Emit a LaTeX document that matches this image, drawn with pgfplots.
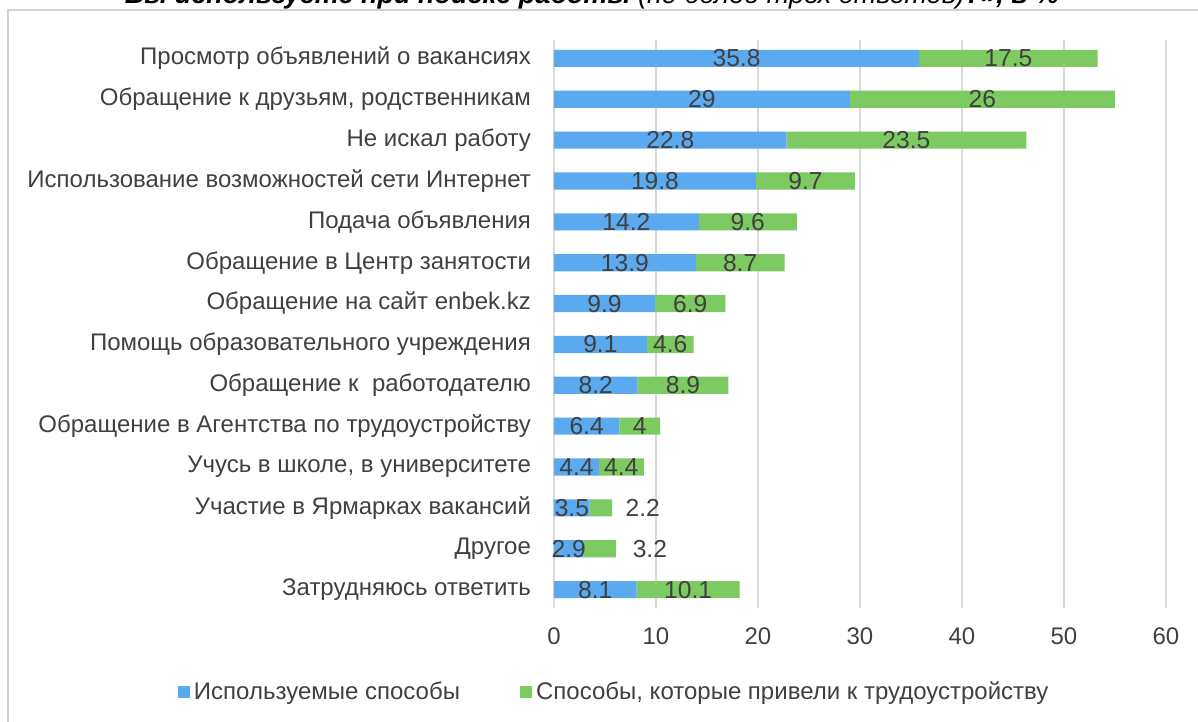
\documentclass[border=0pt]{standalone}
\usepackage{fontspec}
\setmainfont{Liberation Sans}
\usepackage{pgfplots}
\usepackage{pgfplotstable}
\pgfplotsset{compat=1.18}

\definecolor{usedblue}{HTML}{5BA9EF}
\definecolor{jobgreen}{HTML}{7DC962}
\definecolor{txt}{HTML}{404040}
\definecolor{gridgray}{HTML}{D9D9D9}

% y = row from top; p1/p2 = where the value labels sit
\pgfplotstableread{
y  used  result p1    p2
0  35.8  17.5   17.9  44.55
1  29    26     14.5  42
2  22.8  23.5   11.4  34.55
3  19.8  9.7    9.9   24.65
4  14.2  9.6    7.1   19.0
5  13.9  8.7    6.95  18.25
6  9.9   6.9    4.95  13.35
7  9.1   4.6    4.55  11.4
8  8.2   8.9    4.1   12.65
9  6.4   4      3.2   8.4
10 4.4   4.4    2.2   6.6
11 3.5   2.2    1.75  8.7
12 2.9   3.2    1.45  9.4
13 8.1   10.1   4.05  13.15
}\methods

\pgfplotsset{
    frame/.style={
        scale only axis,
        width=306pt, height=284pt,
        xmin=0, xmax=60,
        ymin=-0.45, ymax=13.45,
        y dir=reverse,
    },
}

\begin{document}
\begin{tikzpicture}[font=\fontsize{12}{14}\selectfont]
\begin{axis}[
    frame,
    xbar stacked,
    bar width=0.42,
    xtick={0,10,...,60},
    ytick={0,...,13},
    yticklabels={
        Просмотр объявлений о вакансиях,
        {Обращение к друзьям, родственникам},
        Не искал работу,
        Использование возможностей сети Интернет,
        Подача объявления,
        Обращение в Центр занятости,
        Обращение на сайт enbek.kz,
        Помощь образовательного учреждения,
        Обращение к \ работодателю,
        Обращение в Агентства по трудоустройству,
        {Учусь в школе, в университете},
        Участие в Ярмарках вакансий,
        Другое,
        Затрудняюсь ответить},
    xmajorgrids,
    major grid style={gridgray, line width=1pt},
    axis line style={draw=none},
    major tick length=0pt,
    /pgf/number format/assume math mode=true,
    yticklabel style={text=txt, xshift=-8pt},
    xticklabel style={text=txt, yshift=-6.5pt},
    legend style={at={(0.1,-0.148)}, anchor=center, draw=none,
        text=txt, legend columns=2,
        /tikz/every even column/.append style={column sep=28pt}},
]
\addplot[fill=usedblue, draw=none,
    legend image code/.code={\fill[usedblue] (0pt,-3pt) rectangle (6pt,3pt);}]
    table[x=used, y=y] {\methods};
\addlegendentry{Используемые способы}
\addplot[fill=jobgreen, draw=none,
    legend image code/.code={\fill[jobgreen] (0pt,-3pt) rectangle (6pt,3pt);}]
    table[x=result, y=y] {\methods};
\addlegendentry{Способы, которые привели к трудоустройству}
\end{axis}

% value labels, on a second axis with the same frame
\begin{axis}[
    frame,
    hide axis,
    nodes near coords,
    point meta=explicit symbolic,
    every node near coord/.append style={anchor=center, text=txt,
        font=\fontsize{12.3}{14}\selectfont},
]
\addplot[only marks, mark=none] table[x=p1, y=y, meta=used] {\methods};
\addplot[only marks, mark=none] table[x=p2, y=y, meta=result] {\methods};
\end{axis}

\draw[gray!35, line width=0.7pt] (-273pt,-80pt) rectangle (340pt,299pt);
\node[anchor=base, font=\fontsize{13.5}{16}\selectfont] at (19pt,302pt)
    {\textbf{\textit{Вы используете при поиске работы}} \textit{(не более трех ответов)}\textbf{\textit{?», в \%}}};
\pgfresetboundingbox
\useasboundingbox (-277pt,-57pt) rectangle (322pt,304pt);
\end{tikzpicture}
\end{document}
